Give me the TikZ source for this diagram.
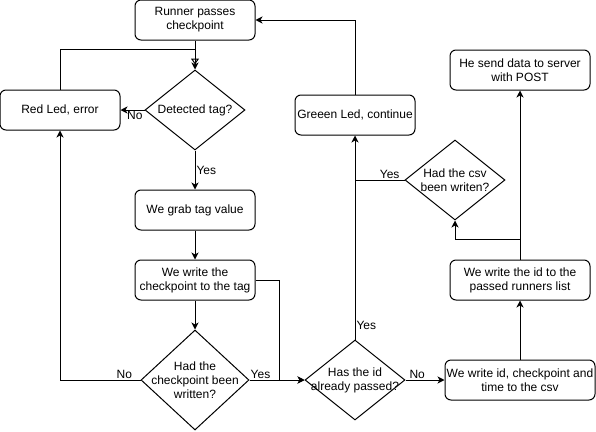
\documentclass[tikz,border=0pt]{standalone}
\usepackage{fontspec}
\setmainfont{Liberation Sans}
\usepackage{tikz}
\usetikzlibrary{shapes.geometric}
\usetikzlibrary{arrows.meta}
\tikzset{
    stepnode/.style = {rectangle, rounded corners=6pt, draw=black, align=center, fill=white, minimum width=120pt, minimum height=40pt, inner sep=0pt},
    widenode/.style = {stepnode, minimum width=140pt},
    asknode/.style = {diamond, draw=black, fill=white, minimum width=100pt, minimum height=80pt, inner sep=0pt},
    asktext/.style = {align=center, inner sep=0pt},
}

\begin{document}
\begin{tikzpicture}[
	x=1pt,
	y=-1pt,
	line width=1pt,
	font=\fontsize{12pt}{14pt}\selectfont
]
\tikzset{
    edgea/.style = {-{Stealth[length=7pt,width=7pt,inset=2pt]}},
    edgeo/.style = {-{Triangle[open,length=6pt,width=8pt]}, shorten >=5pt},
    edgen/.style = {-},
    lbl/.style = {inner sep=1pt}
}
\useasboundingbox (0,0) rectangle (596,431);
\node[stepnode] at (195,20) (runner) {Runner passes\\checkpoint};
\node[asknode, label={[asktext]center:Detected tag?}] at (195,110) (detect) {};
\node[stepnode] at (60,110) (red) {Red Led, error};
\node[stepnode] at (195,210) (grab) {We grab tag value};
\node[stepnode] at (195,280) (write) {We write the\\checkpoint to the tag};
\node[asknode, minimum width=108pt, minimum height=100pt, label={[asktext]center:{Had the\\checkpoint been\\written?}}] at (195,380) (hadck) {};
\node[asknode, label={[asktext]center:{Has the id\\already passed?}}] at (355,380) (hasid) {};
\node[stepnode, minimum width=150pt] at (520,380) (csvw) {We write id, checkpoint and\\time to the csv};
\node[widenode] at (520,280) (list) {We write the id to the\\passed runners list};
\node[asknode, label={[asktext]center:{Had the csv\\been writen?}}] at (455,180) (csvdec) {};
\node[stepnode] at (355,115) (green) {Greeen Led, continue};
\node[widenode] at (520,70) (post) {He send data to server\\with POST};
%
\draw[edgea] (runner) edge (detect);
\draw[edgea] (detect) edge node[lbl,below,pos=0.4] {No} (red);
\draw[edgea] (detect) edge node[lbl,right] {Yes} (grab);
\draw[edgea] (grab) edge (write);
\draw[edgea] (write) edge (hadck);
%
\draw[edgeo] (red.north) -- ++(0,-40) -| (detect.north);
\draw[edgea] (hadck.west) -| node[lbl,above,pos=0.1] {No} (red.south);
\draw[edgea] (hadck) edge node[lbl,above,pos=0.2] {Yes} (hasid);
\draw[edgea] (write.east) -- ++(24,0) |- (hasid.west);
%
\draw[edgea] (hasid) edge node[lbl,above,pos=0.3] {No} (csvw);
\draw[edgea] (hasid.north) -- node[lbl,right,pos=0.07] {Yes} (green.south);
\draw[edgea] (green.north) |- (runner.east);
%
\draw[edgea] (csvw) edge (list);
\draw[edgea] (list) edge (post);
\draw[edgea] (list.north) ++(0,-20) -| (csvdec.south);
\draw[edgen] (csvdec.west) -- node[lbl,above,pos=0.3] {Yes} (green.south |- csvdec.west);
\end{tikzpicture}
\end{document}
